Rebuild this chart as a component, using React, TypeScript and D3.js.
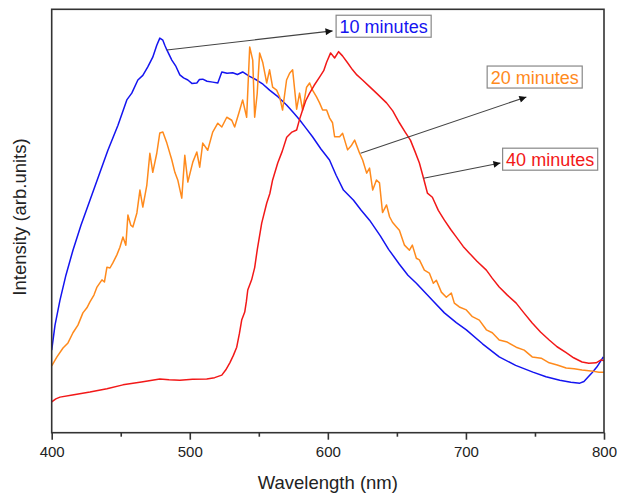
import React, { useEffect, useRef } from 'react';
import * as d3 from 'd3';

// wavelength (nm), intensity (arb. units, 0-100 of frame height)
const min10: [number, number][] = [
  [400, 19.5], [402.4, 25.4], [406, 31.3], [410.3, 37.2], [415.4, 43.1], [421.2, 49.0],
  [427.7, 54.9], [434.2, 60.8], [440.7, 66.7], [448, 72.6], [454.4, 78.6], [458, 80.2],
  [462.4, 83.3], [466, 84.4], [469.6, 86.4], [473.2, 88.7], [476.1, 91.5], [478.3, 93.2],
  [480.5, 92.7], [481.9, 91.5], [483.4, 90.4], [487, 88.0], [490, 86.5], [492.8, 84.5],
  [495.5, 83.8], [498.6, 83.3], [501.5, 82.5], [505.1, 82.6], [507, 83.4], [509.4, 83.5],
  [512.5, 83.0], [516.6, 82.8], [520.3, 82.6], [523.2, 85.2], [527, 84.9], [531.1, 85.0],
  [534.5, 84.6], [538.3, 85.2], [543, 84.2], [548.4, 83.3], [553, 82.3], [557.8, 80.9],
  [564, 79.3], [570.1, 77.4], [575, 75.6], [579.5, 73.9], [584, 72.0], [588.9, 69.9],
  [595, 67.0], [601.2, 64.4], [606, 60.8], [611.3, 57.3], [618.6, 54.9], [624, 52.6],
  [630.2, 50.2], [638, 46.5], [644, 43.3], [651.8, 39.8], [658, 37.2], [664.1, 35.3],
  [675.7, 31.3], [684.4, 28.3], [693, 26.0], [700.3, 24.3], [712, 21.0], [724.1, 17.9],
  [736, 15.9], [748.5, 14.3], [758, 13.2], [768, 12.4], [776, 11.9], [782.5, 11.7],
  [785.5, 12.1], [788.3, 13.1], [791.5, 14.2], [794.8, 15.5], [797, 16.6], [799.5, 17.9]
];

const min20: [number, number][] = [
  [400, 15.8], [403.8, 17.9], [408.2, 20.0], [411.8, 21.2], [415.4, 23.6], [419.0, 25.4],
  [422.6, 28.3], [425.5, 29.5], [427.7, 30.9], [430.6, 32.5], [432.8, 34.4], [434.9, 35.4],
  [436.4, 36.1], [438.2, 35.6], [440.0, 39.1], [442.2, 38.9], [444.3, 40.1], [447.2, 42.0],
  [449.4, 43.8], [451.6, 46.2], [453.7, 44.3], [455.2, 51.4], [457.3, 49.0], [458.8, 48.6],
  [461.7, 51.9], [463.9, 57.3], [466.0, 53.3], [468.9, 58.5], [471.1, 66.0], [473.2, 61.5],
  [476.1, 66.0], [478.3, 70.8], [480.5, 71.0], [483.4, 68.4], [487.0, 64.4], [489.2, 61.5],
  [491.3, 59.7], [494.2, 55.4], [496.4, 65.5], [498.6, 59.2], [502.2, 63.9], [505.1, 66.3],
  [507.2, 62.7], [509.4, 68.4], [513.0, 66.7], [516.6, 71.0], [520.3, 73.1], [523.2, 72.2],
  [526.8, 74.5], [530.4, 73.8], [532.5, 72.2], [536.2, 76.2], [538.3, 78.6], [541.2, 74.5],
  [543.4, 91.1], [545.6, 88.0], [547.0, 74.5], [548.8, 80.0], [550.6, 89.7], [552.8, 87.5],
  [555.7, 82.6], [557.8, 85.7], [560.0, 81.6], [562.9, 80.9], [565.1, 79.3], [567.2, 76.2],
  [570.1, 83.3], [572.3, 84.9], [574.5, 85.7], [577.4, 76.4], [579.5, 80.2], [581.7, 76.2],
  [584.6, 81.6], [586.8, 82.6], [588.9, 80.9], [591.8, 79.3], [594.0, 77.9], [596.2, 76.2],
  [599.1, 76.2], [601.3, 74.3], [603.4, 73.2], [604.9, 69.9], [608.5, 69.9], [610.7, 70.7],
  [614.3, 66.8], [617.2, 67.9], [619.4, 69.1], [623.0, 66.0], [625.2, 64.4], [628.1, 61.3],
  [630.2, 62.5], [632.5, 57.3], [635.2, 59.7], [637.4, 59.0], [639.6, 52.0], [642.5, 53.8],
  [644.7, 51.0], [646.8, 49.7], [649.7, 48.6], [651.8, 47.8], [655.5, 44.3], [659.1, 43.1],
  [661.2, 44.3], [664.1, 41.2], [666.3, 40.8], [669.9, 38.4], [673.5, 37.7], [676.4, 35.3],
  [678.6, 36.0], [682.2, 33.2], [685.8, 32.0], [689.4, 33.0], [691.6, 30.6], [695.2, 29.7],
  [700.3, 29.0], [704.7, 27.4], [709.7, 26.6], [714.8, 24.3], [719.1, 23.6], [724.1, 21.9],
  [729.9, 21.4], [736.4, 20.2], [742.2, 19.5], [748.0, 17.9], [754.5, 17.6], [760.3, 16.5],
  [766.1, 16.0], [772.6, 15.3], [778.4, 15.1], [784.1, 14.8], [790.6, 14.6], [796.4, 14.3],
  [800, 14.3]
];

const min40: [number, number][] = [
  [400, 7.3], [403, 8.0], [406, 8.4], [415, 8.9], [427.7, 9.6], [440, 10.4], [451.6, 11.3],
  [465, 12.0], [478.3, 12.7], [485, 12.5], [492.8, 12.4], [502, 12.6], [512.3, 12.7],
  [518, 13.0], [523.2, 13.6], [526, 14.8], [529, 16.5], [531.5, 18.2], [534, 20.2],
  [536, 23.5], [537.6, 26.6], [539.8, 28.5], [541, 31.0], [542, 33.7], [544.8, 36.1],
  [547, 39.0], [549, 43.5], [552.1, 49.5], [555.7, 54.2], [558, 56.5], [560, 59.7],
  [563.7, 63.7], [567, 66.5], [570.2, 69.8], [574, 71.0], [577.4, 71.5], [579.5, 74.0],
  [581.7, 76.2], [584, 78.4], [586.8, 80.2], [590, 82.0], [594, 84.0], [597, 85.5],
  [599.1, 87.5], [602, 89.7], [604.9, 88.5], [607.8, 90.0], [610.6, 89.0], [614, 87.5],
  [617.9, 85.7], [621, 84.5], [625.1, 83.3], [630, 81.8], [635.2, 80.2], [642.5, 77.9],
  [647, 76.0], [651.8, 73.2], [656, 71.0], [659.8, 69.1], [663, 66.5], [666.3, 63.7],
  [669.3, 60.1], [672.1, 56.6], [675.7, 55.6], [680, 52.5], [684.4, 50.2], [689, 48.0],
  [693.1, 46.2], [698, 44.0], [702.5, 42.4], [708, 40.5], [714.8, 38.4], [719, 36.5],
  [724.1, 34.4], [730, 32.5], [736.4, 30.6], [742, 28.3], [748, 25.9], [754, 23.8],
  [760.3, 21.9], [766, 20.3], [772.6, 18.9], [778, 17.7], [784.1, 16.7], [789, 16.4],
  [794.3, 16.5], [797.9, 17.2], [800, 17.0]
];

const seriesNames = ['10 minutes', '20 minutes', '40 minutes'];
const seriesColors = ['#1414f0', '#ff8a1c', '#f21818'];
const xTicks = [400, 500, 600, 700, 800];
const xMinorTicks = [450, 550, 650, 750];

// annotation: arrow tail on curve, arrow head, label centre (data coords)
const labelTail: [number, number][] = [[483.4, 90.4], [623.7, 66.0], [669.3, 60.1]];
const labelHead: [number, number][] = [[603.4, 94.9], [743.8, 79.3], [725.0, 63.7]];
const labelPos: [number, number][] = [[640.4, 96.0], [749.8, 84.0], [761.0, 64.6]];

const W = 617;
const H = 496;

export default function App() {
  const ref = useRef<SVGSVGElement>(null);

  useEffect(() => {
    const svg = d3.select(ref.current);
    svg.selectAll('*').remove();

    const font = 'Liberation Sans, Arial, sans-serif';
    const x = d3.scaleLinear().domain([400, 800]).range([51.7, 604]);
    const y = d3.scaleLinear().domain([0, 100]).range([432.7, 9.3]);

    // arrow marker
    svg
      .append('defs')
      .append('marker')
      .attr('id', 'arrowhead')
      .attr('viewBox', '0 0 10 10')
      .attr('refX', 10)
      .attr('refY', 5)
      .attr('markerWidth', 11)
      .attr('markerHeight', 7)
      .attr('markerUnits', 'userSpaceOnUse')
      .attr('orient', 'auto')
      .append('path')
      .attr('d', 'M0,0 L10,5 L0,10 Z')
      .attr('fill', '#111');

    // curves
    const line = d3
      .line<[number, number]>()
      .x(d => x(d[0]))
      .y(d => y(d[1]));

    [min10, min20, min40].forEach((data, i) => {
      svg
        .append('path')
        .datum(data)
        .attr('d', line)
        .attr('fill', 'none')
        .attr('stroke', seriesColors[i])
        .attr('stroke-width', 1.5)
        .attr('stroke-linejoin', 'round');
    });

    // frame
    svg
      .append('rect')
      .attr('x', x(400))
      .attr('y', y(100))
      .attr('width', x(800) - x(400))
      .attr('height', y(0) - y(100))
      .attr('fill', 'none')
      .attr('stroke', '#333')
      .attr('stroke-width', 1.6);

    // x axis
    const xAxisGroup = svg.append('g').attr('transform', `translate(0, ${y(0)})`);
    xAxisGroup.call(
      d3.axisBottom(x).tickValues(xTicks).tickSize(7).tickPadding(7).tickFormat(d3.format('d'))
    );
    const minorGroup = svg.append('g').attr('transform', `translate(0, ${y(0)})`);
    minorGroup.call(d3.axisBottom(x).tickValues(xMinorTicks).tickSize(4).tickFormat(() => ''));

    [xAxisGroup, minorGroup].forEach(g => {
      g.select('.domain').remove();
      g.selectAll('line').attr('stroke', '#333').attr('stroke-width', 1.6);
    });
    xAxisGroup
      .selectAll('text')
      .attr('font-family', font)
      .attr('font-size', 15)
      .attr('fill', '#222');

    // axis titles
    svg
      .append('text')
      .attr('x', (x(400) + x(800)) / 2)
      .attr('y', 489)
      .attr('text-anchor', 'middle')
      .attr('font-family', font)
      .attr('font-size', 18.5)
      .attr('fill', '#222')
      .text('Wavelength (nm)');

    svg
      .append('text')
      .attr('transform', 'translate(26, 217) rotate(-90)')
      .attr('text-anchor', 'middle')
      .attr('font-family', font)
      .attr('font-size', 18.5)
      .attr('fill', '#222')
      .text('Intensity (arb.units)');

    // labels with arrows
    seriesNames.forEach((name, i) => {
      svg
        .append('line')
        .attr('x1', x(labelTail[i][0]))
        .attr('y1', y(labelTail[i][1]))
        .attr('x2', x(labelHead[i][0]))
        .attr('y2', y(labelHead[i][1]))
        .attr('stroke', '#444')
        .attr('stroke-width', 1.1)
        .attr('marker-end', 'url(#arrowhead)');

      const g = svg.append('g');
      const rect = g.append('rect');
      const t = g
        .append('text')
        .attr('x', x(labelPos[i][0]))
        .attr('y', y(labelPos[i][1]))
        .attr('dy', '0.36em')
        .attr('text-anchor', 'middle')
        .attr('font-family', font)
        .attr('font-size', 18)
        .attr('fill', seriesColors[i])
        .text(name);
      const bb = (t.node() as SVGTextElement).getBBox();
      rect
        .attr('x', bb.x - 3.5)
        .attr('y', y(labelPos[i][1]) - 11)
        .attr('width', bb.width + 7)
        .attr('height', 22)
        .attr('fill', 'white')
        .attr('stroke', '#888')
        .attr('stroke-width', 1.2);
    });
  }, []);

  return (
    <svg
      ref={ref}
      width={W}
      height={H}
      style={{ position: 'absolute', left: 0, top: 0, background: 'white' }}
    />
  );
}
